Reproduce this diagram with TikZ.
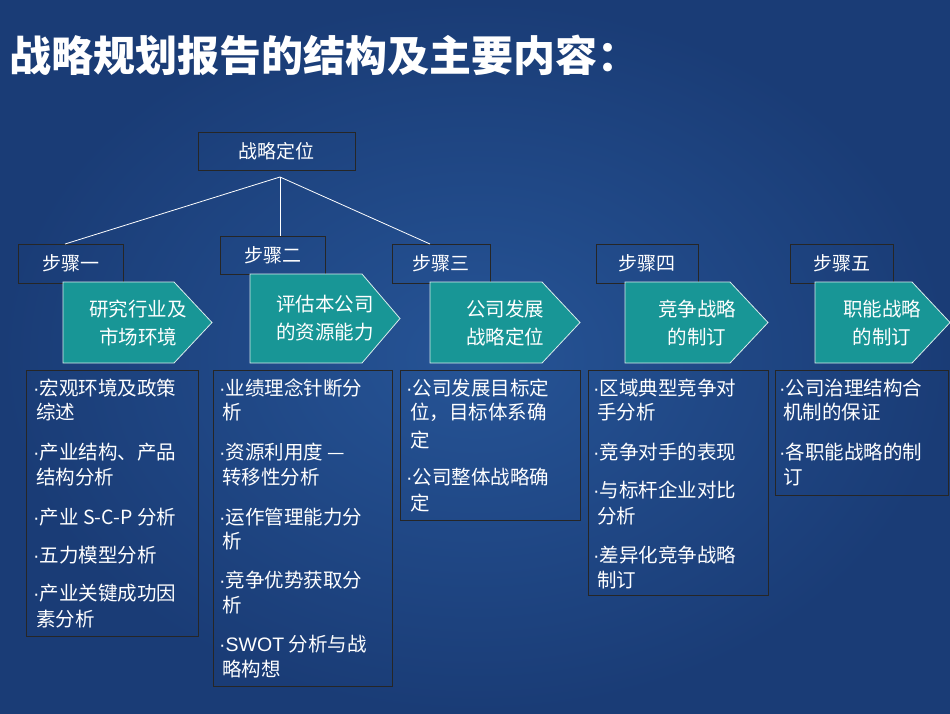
\documentclass[tikz,border=0pt]{standalone}
\usepackage{fontspec}
\setmainfont{Noto Sans CJK SC}
\newfontfamily\lat{Liberation Sans}
\newcommand{\bul}{{\lat\char"00B7}}
\begin{document}
\begin{tikzpicture}[x=1pt,y=-1pt,
  lbl/.style={draw=black!85,line width=0.8pt,text=white,font=\fontsize{19}{22}\selectfont,inner sep=0pt},
  arrowbox/.style={fill={rgb,255:red,24;green,150;blue,150},draw=white!85!teal,line width=0.8pt},
  ptxt/.style={text=white,font=\fontsize{19.5}{28}\selectfont,align=center},
  itm/.style={anchor=west,text=white,font=\fontsize{19.5}{20}\selectfont,inner sep=0pt},
  cbox/.style={draw=black!85,line width=0.8pt},
  conn/.style={white,line width=0.8pt}]
\fill[inner color={rgb,255:red,38;green,84;blue,150},outer color={rgb,255:red,26;green,60;blue,118}] (0,0) rectangle (950,713);
\useasboundingbox (0,0) rectangle (950,713);
\node[anchor=west,text=white,font=\fontsize{42}{46}\selectfont\bfseries] (title) at (6,55) {战略规划报告的结构及主要内容：};
% top box
\node[lbl,minimum width=157pt,minimum height=38pt] (top) at (276.5,151) {战略定位};
\coordinate (hub) at (280,177);
% step labels
\node[lbl,minimum width=105pt,minimum height=39pt] (s1) at (70.5,263.5) {步骤一};
\node[lbl,minimum width=105pt,minimum height=38pt] (s2) at (272.5,255) {步骤二};
\node[lbl,minimum width=98pt,minimum height=39pt] (s3) at (441,263.5) {步骤三};
\node[lbl,minimum width=102pt,minimum height=39pt] (s4) at (647,263.5) {步骤四};
\node[lbl,minimum width=103pt,minimum height=39pt] (s5) at (841.5,263.5) {步骤五};
\draw[conn] (hub) -- (65,244);
\draw[conn] (hub) -- (hub |- s2.north);
\draw[conn] (hub) -- (430,244);
% pentagons
\foreach \x/\t/\b/\w in {63/282/363/149, 250/274/363/150, 430/282/363/150, 625/282/363/143, 815/282/363/135}{
  \fill[arrowbox] (\x,\t) -- ({\x+\w-38},\t) -- ({\x+\w},{(\t+\b)/2}) -- ({\x+\w-38},\b) -- (\x,\b) -- cycle;
}
\node[ptxt] (p1) at (138,323) {研究行业及\\市场环境};
\node[ptxt] (p2) at (325,318) {评估本公司\\的资源能力};
\node[ptxt] (p3) at (505,323) {公司发展\\战略定位};
\node[ptxt] (p4) at (697,323) {竞争战略\\的制订};
\node[ptxt] (p5) at (882,323) {职能战略\\的制订};
% content boxes
\draw[cbox] (26,370) rectangle (198,636);
\draw[cbox] (213,370) rectangle (392,686);
\draw[cbox] (400,370) rectangle (580,520);
\draw[cbox] (588,370) rectangle (768,595);
\draw[cbox] (775,370) rectangle (948,495);
% box1
\node[itm] (a1) at (33,388) {\bul 宏观环境及政策};
\node[itm] (a1b) at (36,412) {综述};
\node[itm] (a2) at (33,452) {\bul 产业结构、产品};
\node[itm] (a2b) at (36,477) {结构分析};
\node[itm] (a3) at (33,517) {\bul 产业 S-C-P 分析};
\node[itm] (a4) at (33,555) {\bul 五力模型分析};
\node[itm] (a5) at (33,593) {\bul 产业关键成功因};
\node[itm] (a5b) at (36,619) {素分析};
% box2
\node[itm] (b1) at (219,388) {\bul 业绩理念针断分};
\node[itm] (b1b) at (222,412) {析};
\node[itm] (b2) at (219,452) {\bul 资源利用度 —};
\node[itm] (b2b) at (222,477) {转移性分析};
\node[itm] (b3) at (219,517) {\bul 运作管理能力分};
\node[itm] (b3b) at (222,541) {析};
\node[itm] (b4) at (219,580) {\bul 竞争优势获取分};
\node[itm] (b4b) at (222,605) {析};
\node[itm] (b5) at (219,644) {\bul {\lat SWOT} 分析与战};
\node[itm] (b5b) at (222,669) {略构想};
% box3
\node[itm] (c1) at (406,388) {\bul 公司发展目标定};
\node[itm] (c1b) at (410,412) {位，目标体系确};
\node[itm] (c1c) at (410,440) {定};
\node[itm] (c2) at (406,477) {\bul 公司整体战略确};
\node[itm] (c2b) at (410,503) {定};
% box4
\node[itm] (d1) at (593,388) {\bul 区域典型竞争对};
\node[itm] (d1b) at (597,412) {手分析};
\node[itm] (d2) at (593,452) {\bul 竞争对手的表现};
\node[itm] (d3) at (593,490) {\bul 与标杆企业对比};
\node[itm] (d3b) at (597,516) {分析};
\node[itm] (d4) at (593,555) {\bul 差异化竞争战略};
\node[itm] (d4b) at (597,580) {制订};
% box5
\node[itm] (e1) at (779,388) {\bul 公司治理结构合};
\node[itm] (e1b) at (783,412) {机制的保证};
\node[itm] (e2) at (779,452) {\bul 各职能战略的制};
\node[itm] (e2b) at (783,477) {订};
\end{tikzpicture}
\end{document}
